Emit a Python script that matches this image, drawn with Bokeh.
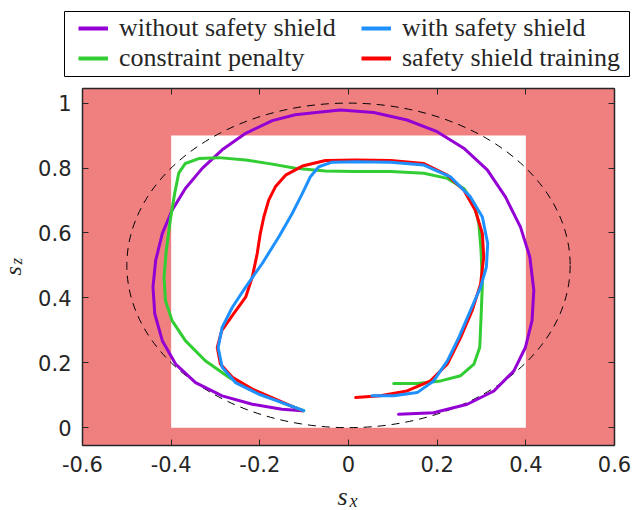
import math
from bokeh.plotting import figure
from bokeh.layouts import row, column
from bokeh.models import (Legend, LegendItem, LinearAxis, FixedTicker,
                          Range1d, CustomJSTickFormatter)
from bokeh.core.properties import value
from bokeh.embed import file_html
from bokeh.resources import INLINE

# ---------------- data ----------------
x_ticks = [-0.6, -0.4, -0.2, 0, 0.2, 0.4, 0.6]
x_tick_labels = ["-0.6", "-0.4", "-0.2", "0", "0.2", "0.4", "0.6"]
y_ticks = [0, 0.2, 0.4, 0.6, 0.8, 1]
y_tick_labels = ["0", "0.2", "0.4", "0.6", "0.8", "1"]

series_names = ["without safety shield", "constraint penalty",
                "with safety shield", "safety shield training"]
series_colors = ["#9400D3", "#32CD32", "#1E90FF", "#FF0000"]

# safe set (white box) and constraint ellipse
safe_x = [-0.4, 0.4]
safe_y = [0.0, 0.9]
ell_center = (0.0, 0.5)
ell_size = (1.0, 1.0)

without_x = [0.113, 0.192, 0.268, 0.328, 0.373, 0.399, 0.414, 0.418, 0.409, 0.388, 0.354,
             0.313, 0.26, 0.2, 0.132, 0.057, -0.018, -0.052, -0.12, -0.172, -0.232,
             -0.285, -0.33, -0.368, -0.398, -0.42, -0.435, -0.441, -0.437, -0.42, -0.39,
             -0.345, -0.285, -0.217, -0.15, -0.104]
without_y = [0.041, 0.046, 0.072, 0.113, 0.175, 0.247, 0.33, 0.423, 0.526, 0.618, 0.711,
             0.794, 0.861, 0.912, 0.948, 0.971, 0.979, 0.974, 0.964, 0.946, 0.907,
             0.856, 0.799, 0.737, 0.67, 0.598, 0.515, 0.433, 0.351, 0.268, 0.196,
             0.139, 0.098, 0.072, 0.057, 0.052]

penalty_x = [0.102, 0.155, 0.208, 0.253, 0.283, 0.296, 0.299, 0.302, 0.299, 0.294, 0.283,
             0.26, 0.223, 0.17, 0.095, 0.016, -0.052, -0.12, -0.172, -0.232, -0.293,
             -0.338, -0.368, -0.383, -0.392, -0.402, -0.411, -0.416, -0.413, -0.398,
             -0.368, -0.323, -0.27, -0.21, -0.15, -0.101]
penalty_y = [0.136, 0.136, 0.144, 0.16, 0.196, 0.247, 0.34, 0.443, 0.546, 0.629, 0.691,
             0.737, 0.768, 0.784, 0.789, 0.789, 0.791, 0.799, 0.812, 0.825, 0.832,
             0.829, 0.814, 0.784, 0.722, 0.639, 0.546, 0.464, 0.392, 0.33,
             0.268, 0.206, 0.155, 0.113, 0.077, 0.052]

training_x = [0.016, 0.072, 0.132, 0.185, 0.223, 0.253, 0.279, 0.298, 0.305, 0.302, 0.286,
              0.26, 0.223, 0.17, 0.095, 0.016, -0.052, -0.104, -0.142, -0.165, -0.18,
              -0.191, -0.199, -0.206, -0.217, -0.232, -0.259, -0.286, -0.296, -0.289,
              -0.262, -0.217, -0.157, -0.104]
training_y = [0.093, 0.098, 0.113, 0.144, 0.196, 0.278, 0.361, 0.443, 0.526, 0.598, 0.67,
              0.732, 0.778, 0.814, 0.823, 0.825, 0.823, 0.806, 0.778, 0.742, 0.701,
              0.649, 0.598, 0.536, 0.464, 0.402, 0.351, 0.299, 0.247, 0.196,
              0.155, 0.119, 0.083, 0.052]

shield_x = [0.053, 0.102, 0.155, 0.192, 0.223, 0.249, 0.275, 0.298, 0.311, 0.314, 0.302,
            0.275, 0.23, 0.17, 0.095, 0.016, -0.037, -0.067, -0.086, -0.104, -0.127,
            -0.157, -0.195, -0.232, -0.262, -0.285, -0.294, -0.285, -0.255, -0.202,
            -0.15, -0.101]
shield_y = [0.098, 0.098, 0.108, 0.144, 0.206, 0.278, 0.361, 0.433, 0.495, 0.567, 0.649,
            0.711, 0.773, 0.809, 0.818, 0.819, 0.818, 0.804, 0.773, 0.722, 0.66,
            0.588, 0.505, 0.433, 0.371, 0.309, 0.247, 0.186, 0.139, 0.103,
            0.077, 0.052]

AX = "#262626"
SERIF = "Liberation Serif"

curves = {
    "without safety shield": (without_x, without_y),
    "constraint penalty": (penalty_x, penalty_y),
    "safety shield training": (training_x, training_y),
    "with safety shield": (shield_x, shield_y),
}
color_of = dict(zip(series_names, series_colors))

# ---------------- main plot ----------------
p = figure(width=604, height=400, output_backend="svg", toolbar_location=None,
           x_range=Range1d(-0.6, 0.6), y_range=Range1d(-0.055, 1.045),
           min_border_left=52, min_border_right=20, min_border_top=8, min_border_bottom=35,
           background_fill_color="#F08080", border_fill_color="white")
p.outline_line_color = None
p.grid.visible = False

p.quad(left=[safe_x[0]], right=[safe_x[1]], bottom=[safe_y[0]], top=[safe_y[1]],
       fill_color="white", line_color=None)
p.ellipse(x=[ell_center[0]], y=[ell_center[1]], width=[ell_size[0]], height=[ell_size[1]],
          fill_color=None, line_color="black", line_width=1, line_dash="8 6")

for name, (xs, ys) in curves.items():
    p.line(xs, ys, line_color=color_of[name], line_width=3, line_join="round",
           line_cap="round")

def style_axis(ax, labels=True):
    ax.axis_line_color = AX
    ax.axis_line_width = 1.5
    ax.major_tick_line_color = AX
    ax.major_tick_line_width = 1
    ax.major_tick_in = 6
    ax.major_tick_out = 0
    ax.minor_tick_line_color = None
    ax.major_label_text_font = "DejaVu Sans"
    ax.major_label_text_font_size = "21px"
    ax.major_label_text_color = AX
    ax.major_label_standoff = 10
    if not labels:
        ax.formatter = CustomJSTickFormatter(code="return ''")
        ax.major_label_standoff = 0
        ax.major_label_text_font_size = "1px"

p.xaxis.ticker = FixedTicker(ticks=x_ticks)
p.yaxis.ticker = FixedTicker(ticks=y_ticks)
p.xaxis.major_label_overrides = dict(zip(x_ticks, x_tick_labels))
p.yaxis.major_label_overrides = dict(zip(y_ticks, y_tick_labels))
style_axis(p.xaxis[0])
style_axis(p.yaxis[0])
p.yaxis[0].major_label_standoff = 11

top_ax = LinearAxis(ticker=FixedTicker(ticks=x_ticks))
right_ax = LinearAxis(ticker=FixedTicker(ticks=y_ticks))
style_axis(top_ax, labels=False)
style_axis(right_ax, labels=False)
p.add_layout(top_ax, "above")
p.add_layout(right_ax, "right")

# ---------------- legend strip (its frame is the legend box) ----------------
lg = figure(width=604, height=80, output_backend="svg", toolbar_location=None,
            x_axis_type=None, y_axis_type=None,
            x_range=Range1d(10, 11), y_range=Range1d(10, 11),   # series lie off-view
            min_border_left=34, min_border_right=5, min_border_top=11, min_border_bottom=4,
            background_fill_color="white", border_fill_color="white")
lg.frame_align = False
lg.grid.visible = False
lg.outline_line_color = "black"
lg.outline_line_width = 1
proxies = {name: lg.line(curves[name][0], curves[name][1], line_color=color_of[name],
                         line_width=4)
           for name in series_names}

def make_legend(names, loc):
    leg = Legend(items=[LegendItem(label=n, renderers=[proxies[n]]) for n in names],
                 location=loc)
    leg.label_text_font = SERIF
    leg.label_text_font_size = "26px"
    leg.label_text_color = AX
    leg.glyph_width = 30
    leg.glyph_height = 30
    leg.spacing = 0
    leg.padding = 0
    leg.margin = 0
    leg.label_standoff = 11
    leg.border_line_color = None
    leg.background_fill_alpha = 0
    lg.add_layout(leg, "center")

make_legend(series_names[0:2], (14, 3))
make_legend(series_names[2:4], (297, 3))

# ---------------- axis-label strips (s_x below, s_z left) ----------------
xl = figure(width=604, height=30, output_backend="svg", toolbar_location=None,
            x_axis_type=None, y_axis_type=None, x_range=Range1d(30, 634), y_range=Range1d(0, 30),
            min_border=0, background_fill_color="white", border_fill_color="white")
xl.frame_align = False
xl.grid.visible = False
xl.outline_line_color = None
xl.text(x=[347], y=[14], text=["s"], text_align="right", text_baseline="middle",
        text_font=value(SERIF), text_font_style="italic", text_font_size="26px", text_color=AX)
xl.text(x=[349], y=[9.5], text=["x"], text_align="left", text_baseline="middle",
        text_font=value(SERIF), text_font_style="italic", text_font_size="18px", text_color=AX)

zl = figure(width=30, height=510, output_backend="svg", toolbar_location=None,
            x_axis_type=None, y_axis_type=None, x_range=Range1d(0, 30), y_range=Range1d(0, 510),
            min_border=0, background_fill_color="white", border_fill_color="white")
zl.frame_align = False
zl.grid.visible = False
zl.outline_line_color = None
zl.text(x=[12], y=[235], text=["s"], angle=math.pi / 2, text_align="left",
        text_baseline="middle", text_font=value(SERIF), text_font_style="italic",
        text_font_size="24px", text_color=AX)
zl.text(x=[16], y=[246], text=["z"], angle=math.pi / 2, text_align="left",
        text_baseline="middle", text_font=value(SERIF), text_font_style="italic",
        text_font_size="17px", text_color=AX)

layout = row(zl, column(lg, p, xl, spacing=0), spacing=0)
open("out.html", "w").write(file_html(layout, INLINE))
